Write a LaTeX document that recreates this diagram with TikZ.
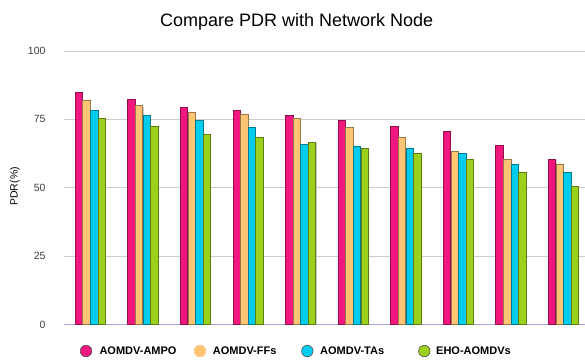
\documentclass[tikz,border=0pt]{standalone}
\usepackage{fontspec}
\setmainfont{Liberation Sans}
\usepackage{xcolor}
\usepackage{tikz}

\definecolor{ampo}{HTML}{F2177F}
\definecolor{ffs}{HTML}{FFC474}
\definecolor{tas}{HTML}{00CCF0}
\definecolor{eho}{HTML}{9BD11C}
\definecolor{gridgray}{HTML}{CCCCCC}
\definecolor{axisblue}{HTML}{A8A8EE}

\tikzset{
  bar/.style={line width=0.6pt},
  gridline/.style={draw=gridgray, line width=0.7pt},
  ticklabel/.style={anchor=east, font=\fontsize{10.5}{10.5}\selectfont, text=black!75},
  legdot/.style={circle, draw=black!70, line width=0.6pt, minimum size=11.5pt, inner sep=0pt},
  legtext/.style={anchor=west, font=\bfseries\fontsize{11}{11}\selectfont, inner sep=0pt}
}

\begin{document}
\begin{tikzpicture}[x=1pt,y=2.735pt]
    \useasboundingbox[fill=white] (0,-12.62) rectangle (585,118.65);
    \foreach \v in {25,50,75,100}
      \draw[gridline] (64,\v) -- (585,\v);
    \foreach \v in {0,25,50,75,100}
      \node[ticklabel] (tick\v) at (49,\v) {\v};
    \draw[axisblue, line width=1.4pt] (64,0) -- (585,0);
    \foreach \i/\a/\b/\c/\d in {0/85/82/78.5/75.5, 1/82.5/80/76.5/72.5, 2/79.5/77.5/74.5/69.5,
        3/78.5/77/72/68.5, 4/76.5/75.5/66/66.5, 5/74.5/72/65/64.5, 6/72.5/68.5/64.5/62.5,
        7/70.5/63.5/62.5/60.5, 8/65.5/60.5/58.5/55.5, 9/60.5/58.5/55.5/50.5} {
      \pgfmathsetmacro\cx{90.4+52.58*\i}
      \foreach \k/\h/\col in {0/\a/ampo, 1/\b/ffs, 2/\c/tas, 3/\d/eho} {
        \pgfmathsetmacro\lx{\cx-15.3+7.65*\k}
        \fill[black!20] (\lx+1,0) rectangle (\lx+8.2,\h-0.3);
        \draw[bar, fill=\col, draw=\col!60!black] (\lx,0) rectangle (\lx+7.4,\h);
      }
    }
    \node[font=\fontsize{18}{18}\selectfont] (title) at (296.7,110.7) {Compare PDR with Network Node};
    \node[rotate=90, font=\fontsize{10.5}{10.5}\selectfont] (ylabel) at (15,50.5) {PDR(\%)};
    \node[legdot, fill=ampo] (dot1) at (86,-9.7) {};
    \node[legtext] (leg1) at (99.3,-9.7) {AOMDV-AMPO};
    \node[legdot, fill=ffs, draw=ffs] (dot2) at (200,-9.7) {};
    \node[legtext] (leg2) at (212.7,-9.7) {AOMDV-FFs};
    \node[legdot, fill=tas] (dot3) at (307.3,-9.7) {};
    \node[legtext] (leg3) at (320,-9.7) {AOMDV-TAs};
    \node[legdot, fill=eho] (dot4) at (424.3,-9.7) {};
    \node[legtext] (leg4) at (436,-9.7) {EHO-AOMDVs};
\end{tikzpicture}
\end{document}
